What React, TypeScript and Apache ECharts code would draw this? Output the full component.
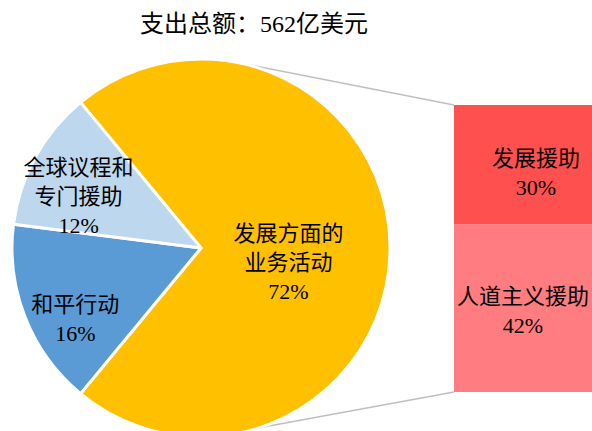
import React, { useEffect, useRef } from 'react';
import * as echarts from 'echarts';

const titleText = '支出总额：562亿美元';
const pieNames = ['发展方面的\n业务活动', '和平行动', '全球议程和\n专门援助'];
const pieValues = [72, 16, 12];
const barNames = ['人道主义援助', '发展援助'];
const barValues = [42, 30];
const barCategories = ['发展方面的业务活动'];

const W = 592;
const H = 431;
const CX = 201;
const CY = 248;
const R = 189;
const BAR_LEFT = 454;
const BAR_TOP = 105;
const BAR_H = 287;
const FONT = '"Liberation Serif", "Noto Sans CJK SC", serif';
const pieColors = ['#FFC000', '#5B9BD5', '#BDD7EE'];
const barColors = ['#FF7C80', '#FF5050'];
const pieLabelOffsets = [[-10, 14], [-35, 35], [-37, -5]];
const barLabelOffsets = [[0, 3], [13, 8]];

export default function App() {
  const ref = useRef<HTMLDivElement>(null);
  useEffect(() => {
    document.body.style.margin = '0';
    if (!ref.current) return;
    const chart = echarts.init(ref.current, undefined, { renderer: 'svg' });
    const total = pieValues.reduce((a, b) => a + b, 0);
    const startAngle = (pieValues[0] / total) * 180;
    const barSum = barValues.reduce((a, b) => a + b, 0);
    const a1 = (80 * Math.PI) / 180;
    const a2 = (-72 * Math.PI) / 180;
    const p1 = [CX + R * Math.cos(a1), CY - R * Math.sin(a1)];
    const p2 = [CX + R * Math.cos(a2), CY - R * Math.sin(a2)];
    chart.setOption({
      animation: false,
      backgroundColor: '#ffffff',
      title: {
        text: titleText,
        left: 135,
        top: 7,
        textStyle: { fontFamily: FONT, fontSize: 24, fontWeight: 'normal', color: '#000' },
      },
      grid: { left: BAR_LEFT, top: BAR_TOP, width: W - BAR_LEFT, height: BAR_H },
      xAxis: { type: 'category', data: barCategories, show: false },
      yAxis: { type: 'value', min: 0, max: barSum, show: false },
      graphic: [
        { type: 'line', shape: { x1: p1[0], y1: p1[1], x2: BAR_LEFT, y2: BAR_TOP }, style: { stroke: '#BFBFBF', lineWidth: 1.5 }, z: 0 },
        { type: 'line', shape: { x1: p2[0], y1: p2[1], x2: BAR_LEFT, y2: BAR_TOP + BAR_H }, style: { stroke: '#BFBFBF', lineWidth: 1.5 }, z: 0 },
      ],
      series: [
        {
          type: 'pie',
          center: [CX, CY],
          radius: R,
          startAngle,
          clockwise: true,
          silent: true,
          itemStyle: { borderColor: '#ffffff', borderWidth: 3 },
          label: {
            position: 'inside',
            formatter: '{b}\n{c}%',
            fontFamily: FONT,
            fontSize: 22,
            lineHeight: 29,
            color: '#000',
          },
          labelLine: { show: false },
          labelLayout: (p: any) => ({ dx: pieLabelOffsets[p.dataIndex][0], dy: pieLabelOffsets[p.dataIndex][1] }),
          data: pieValues.map((v, i) => ({ value: v, name: pieNames[i], itemStyle: { color: pieColors[i] } })),
        },
        ...barValues.map((v, i) => ({
          type: 'bar',
          name: barNames[i],
          stack: 'total',
          barWidth: '100%',
          silent: true,
          itemStyle: { color: barColors[i] },
          label: {
            show: true,
            position: 'inside',
            formatter: '{a}\n{c}%',
            offset: barLabelOffsets[i],
            fontFamily: FONT,
            fontSize: 22,
            lineHeight: 29,
            color: '#000',
          },
          data: [v],
        })),
      ],
    });
    return () => chart.dispose();
  }, []);
  return <div ref={ref} style={{ width: W, height: H }} />;
}
